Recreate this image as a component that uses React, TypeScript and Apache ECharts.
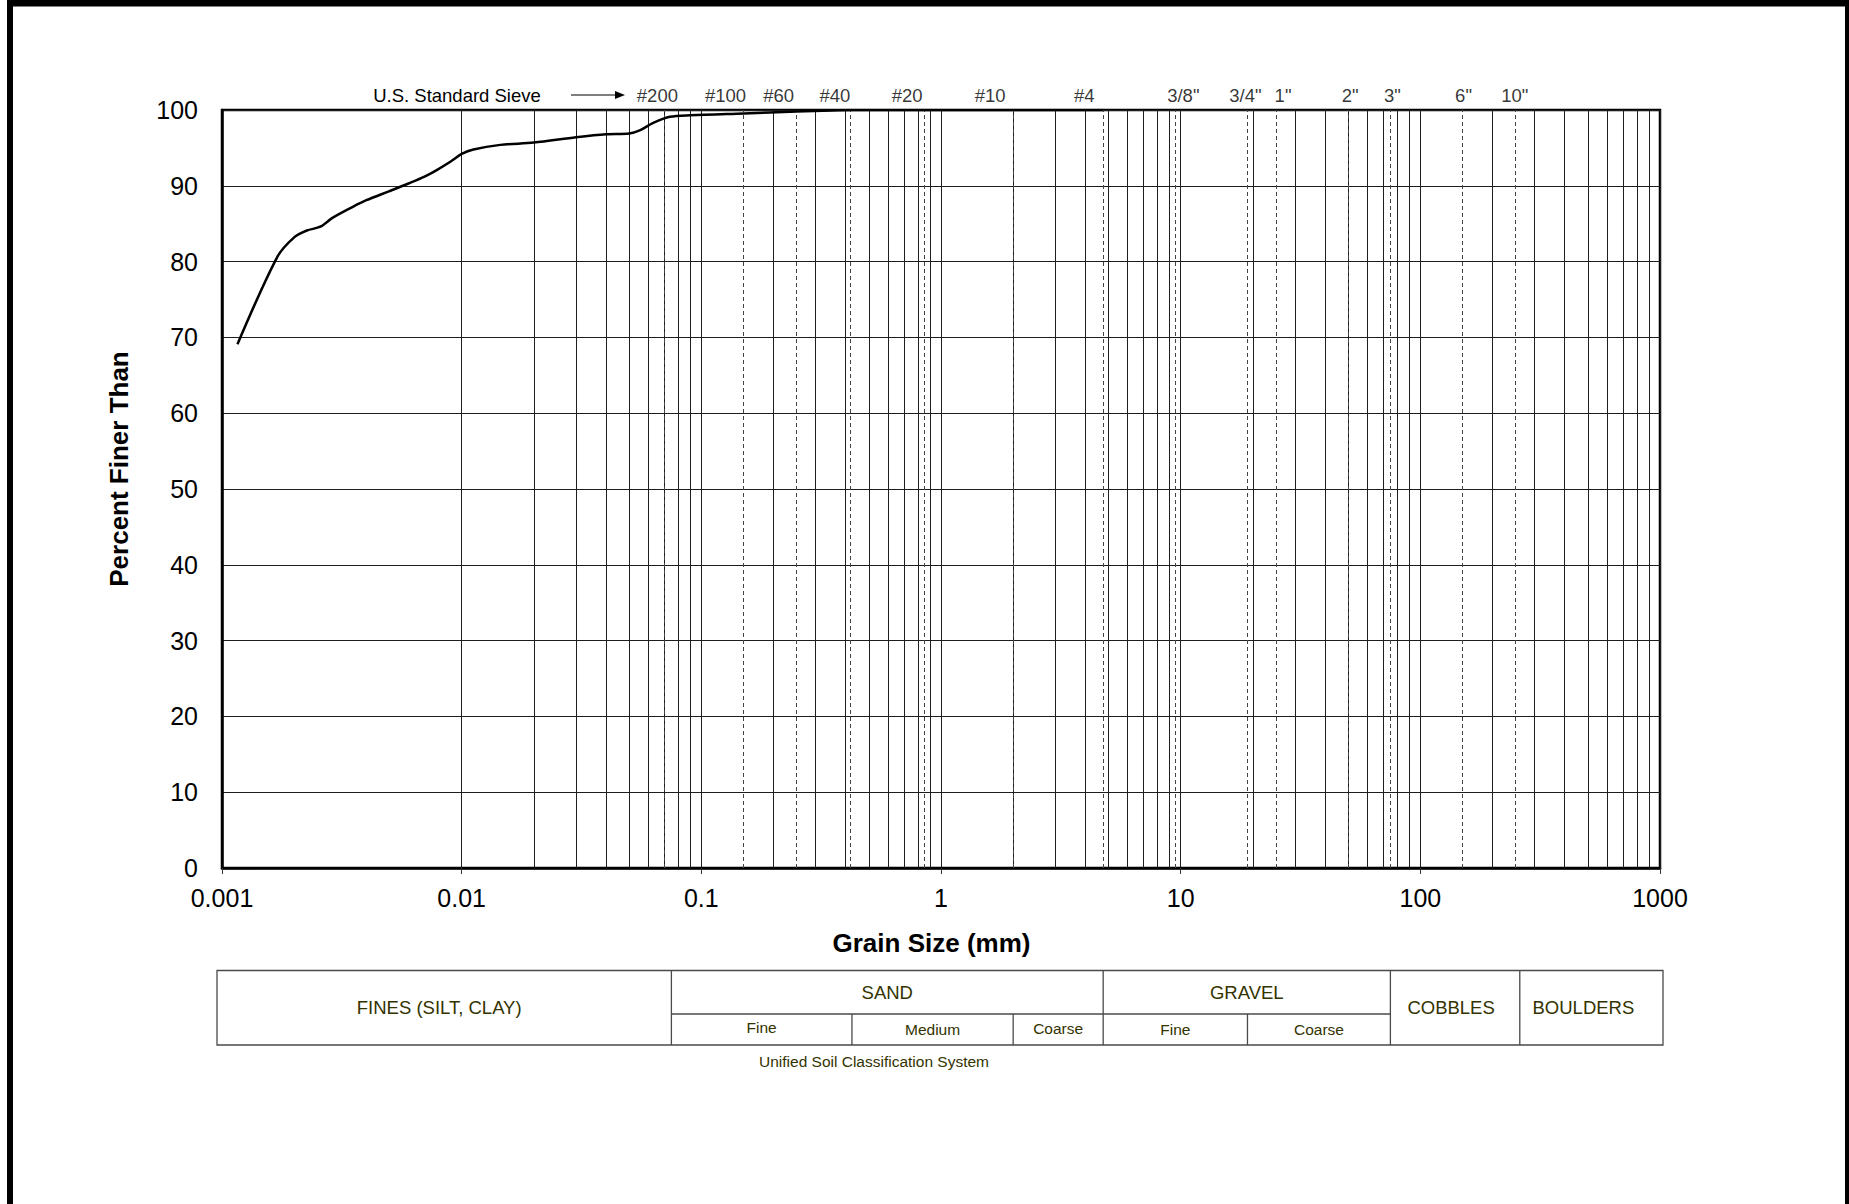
import React, { useEffect, useRef } from "react";
import * as echarts from "echarts";

// ---- data ----
const grainSizeMm = [
  0.00116, 0.0017, 0.002, 0.00226, 0.00257, 0.0029, 0.0035, 0.004, 0.005, 0.006,
  0.007, 0.0079, 0.009, 0.01, 0.0112, 0.0145, 0.02, 0.03, 0.04, 0.05, 0.0553,
  0.063, 0.074, 0.09, 0.15, 0.25, 0.35, 0.425, 0.85, 2, 4.75,
];
const percentFiner = [
  69.1, 80.6, 83.2, 84.1, 84.6, 85.8, 87.2, 88.1, 89.3, 90.3,
  91.2, 92.1, 93.2, 94.2, 94.8, 95.4, 95.7, 96.4, 96.8, 96.9, 97.3,
  98.3, 99.1, 99.3, 99.55, 99.8, 99.95, 100, 100, 100, 100,
];

const sieveNames = ["#200", "#100", "#60", "#40", "#20", "#10", "#4", '3/8"', '3/4"', '1"', '2"', '3"', '6"', '10"'];
const sieveSizesMm = [0.075, 0.15, 0.25, 0.425, 0.85, 2, 4.75, 9.5, 19, 25, 50, 75, 150, 250];
const sieveLabelDx = [-14, -18, -18, -17, -17, -23, -19, 8, -2, 7, 2, 2, 1, -1];

const decades = [0.001, 0.01, 0.1, 1, 10, 100];
const minorMultipliers = [2, 3, 4, 5, 6, 7, 8, 9];

const xMin = 0.001;
const xMax = 1000;
const yMin = 0;
const yMax = 100;
const yStep = 10;

// USCS classification boundaries (mm)
const usBoundariesMm = [0.075, 0.425, 2, 4.75, 19, 75, 260];

const FONT = '"Liberation Sans", Arial, sans-serif';
const TABLE_COLOR = "#333300";
const GRID_COLOR = "#1e1e1e";

export default function App() {
  const ref = useRef<HTMLDivElement>(null);

  useEffect(() => {
    if (!ref.current) return;
    const chart = echarts.init(ref.current, undefined, { renderer: "svg" });

    const minorValues: number[] = [];
    decades.forEach((d) => minorMultipliers.forEach((m) => minorValues.push(+(d * m).toPrecision(6))));

    const option: any = {
      animation: false,
      backgroundColor: "#ffffff",
      grid: {
        left: 222,
        top: 110,
        width: 1438,
        height: 758,
        show: true,
        borderColor: "#000",
        borderWidth: 2.5,
        containLabel: false,
      },
      xAxis: {
        type: "log",
        logBase: 10,
        min: xMin,
        max: xMax,
        name: "Grain Size (mm)",
        nameLocation: "middle",
        nameGap: 62,
        nameTextStyle: {
          fontFamily: FONT,
          fontSize: 26,
          fontWeight: "bold",
          color: "#000",
          padding: [0, 19, 0, 0],
        },
        axisLine: { show: true, lineStyle: { color: "#000", width: 2.5 } },
        axisTick: { show: true, inside: false, length: 6, lineStyle: { color: "#333", width: 1 } },
        minorTick: { show: false },
        axisLabel: {
          fontFamily: FONT,
          fontSize: 25,
          color: "#000",
          margin: 17,
          formatter: (v: number) => String(+Number(v).toPrecision(6)),
        },
        splitLine: { show: true, lineStyle: { color: GRID_COLOR, width: 1 } },
      },
      yAxis: {
        type: "value",
        min: yMin,
        max: yMax,
        interval: yStep,
        name: "Percent Finer Than",
        nameLocation: "middle",
        nameGap: 90,
        nameTextStyle: {
          fontFamily: FONT,
          fontSize: 26,
          fontWeight: "bold",
          color: "#000",
          padding: [0, 0, 0, 40],
        },
        axisLine: { show: true, lineStyle: { color: "#000", width: 2.5 } },
        axisTick: { show: false },
        axisLabel: { fontFamily: FONT, fontSize: 25, color: "#000", margin: 24 },
        splitLine: { show: true, lineStyle: { color: GRID_COLOR, width: 1 } },
      },
      series: [
        {
          name: "minor grid",
          type: "line",
          data: [],
          z: 1,
          silent: true,
          markLine: {
            silent: true,
            symbol: ["none", "none"],
            label: { show: false },
            lineStyle: { color: GRID_COLOR, width: 1, type: "solid" },
            data: minorValues.map((v) => ({ xAxis: v })),
          },
        },
        {
          name: "sieve lines",
          type: "line",
          data: [],
          z: 1,
          silent: true,
          markLine: {
            silent: true,
            symbol: ["none", "none"],
            label: { show: false },
            lineStyle: { color: "#444", width: 1, type: [4, 3] },
            data: sieveSizesMm.map((v) => ({ xAxis: v })),
          },
        },
        {
          name: "sieve labels",
          type: "scatter",
          clip: false,
          silent: true,
          symbolSize: 1,
          itemStyle: { color: "rgba(0,0,0,0)" },
          z: 3,
          data: sieveSizesMm.map((s, i) => ({
            name: sieveNames[i],
            value: [s, yMax],
            label: { offset: [sieveLabelDx[i], 0] },
          })),
          label: {
            show: true,
            position: "top",
            distance: 5,
            formatter: "{b}",
            fontFamily: FONT,
            fontSize: 18.5,
            color: "#000",
          },
        },
        {
          name: "Percent Finer",
          type: "line",
          z: 5,
          showSymbol: false,
          smooth: 0.3,
          lineStyle: { color: "#000", width: 2.5 },
          data: grainSizeMm.map((d, i) => [d, percentFiner[i]]),
        },
      ],
    };

    chart.setOption(option);

    const px = (v: number) => chart.convertToPixel({ xAxisIndex: 0 }, v) as number;
    const b = usBoundariesMm.map(px);
    const left = px(xMin) - 5;
    const right = px(xMax) + 3;
    const top = 970.5;
    const mid = 1014;
    const bottom = 1045;
    const lineStyle = { stroke: "#4a4a4a", lineWidth: 1.3 };

    const vline = (x: number, y1: number, y2: number) => ({
      type: "line",
      shape: { x1: x, y1, x2: x, y2 },
      style: lineStyle,
      silent: true,
    });
    const hline = (x1: number, x2: number, y: number) => ({
      type: "line",
      shape: { x1, y1: y, x2, y2: y },
      style: lineStyle,
      silent: true,
    });
    const txt = (text: string, x: number, y: number, size: number) => ({
      type: "text",
      x,
      y,
      silent: true,
      style: {
        text,
        fill: TABLE_COLOR,
        font: `${size}px ${FONT}`,
        fontSize: size,
        fontFamily: FONT,
        textAlign: "center",
        textVerticalAlign: "middle",
        align: "center",
        verticalAlign: "middle",
      },
    });
    const upY = (top + mid) / 2;
    const lowY = (mid + bottom) / 2;
    const fullY = (top + bottom) / 2;

    const graphic: any[] = [
      // outer frame
      { type: "rect", shape: { x: 7, y: 0, width: 1842, height: 6.5 }, style: { fill: "#000" }, silent: true },
      { type: "rect", shape: { x: 7, y: 0, width: 6, height: 1204 }, style: { fill: "#000" }, silent: true },
      { type: "rect", shape: { x: 1845, y: 0, width: 4, height: 1204 }, style: { fill: "#000" }, silent: true },
      // sieve header
      {
        type: "text",
        x: 457,
        y: 95,
        silent: true,
        style: {
          text: "U.S. Standard Sieve",
          fill: "#000",
          font: `18.5px ${FONT}`,
          textAlign: "center",
          textVerticalAlign: "middle",
          align: "center",
          verticalAlign: "middle",
        },
      },
      { type: "line", shape: { x1: 571, y1: 95, x2: 616, y2: 95 }, style: { stroke: "#000", lineWidth: 1.2 }, silent: true },
      { type: "polygon", shape: { points: [[615, 91], [625, 95], [615, 99]] }, style: { fill: "#000" }, silent: true },
      // classification table
      { type: "rect", shape: { x: left, y: top, width: right - left, height: bottom - top }, style: { fill: "none", ...lineStyle }, silent: true },
      vline(b[0], top, bottom),
      vline(b[3], top, bottom),
      vline(b[5], top, bottom),
      vline(b[6], top, bottom),
      vline(b[1], mid, bottom),
      vline(b[2], mid, bottom),
      vline(b[4], mid, bottom),
      hline(b[0], b[5], mid),
      txt("FINES (SILT, CLAY)", (left + b[0]) / 2 - 5, fullY, 18.5),
      txt("SAND", (b[0] + b[3]) / 2, upY, 18.5),
      txt("Fine", (b[0] + b[1]) / 2, lowY - 2, 15.5),
      txt("Medium", (b[1] + b[2]) / 2, lowY, 15.5),
      txt("Coarse", (b[2] + b[3]) / 2, lowY - 1, 15.5),
      txt("GRAVEL", (b[3] + b[5]) / 2, upY, 18.5),
      txt("Fine", (b[3] + b[4]) / 2, lowY, 15.5),
      txt("Coarse", (b[4] + b[5]) / 2, lowY, 15.5),
      txt("COBBLES", (b[5] + b[6]) / 2 - 4, fullY, 18.5),
      txt("BOULDERS", (b[6] + right) / 2 - 8, fullY, 18.5),
      txt("Unified Soil Classification System", 874, 1061, 15.5),
    ];

    chart.setOption({ graphic });

    return () => {
      chart.dispose();
    };
  }, []);

  return (
    <div
      ref={ref}
      style={{ position: "fixed", left: 0, top: 0, width: 1849, height: 1204, background: "#fff" }}
    />
  );
}
